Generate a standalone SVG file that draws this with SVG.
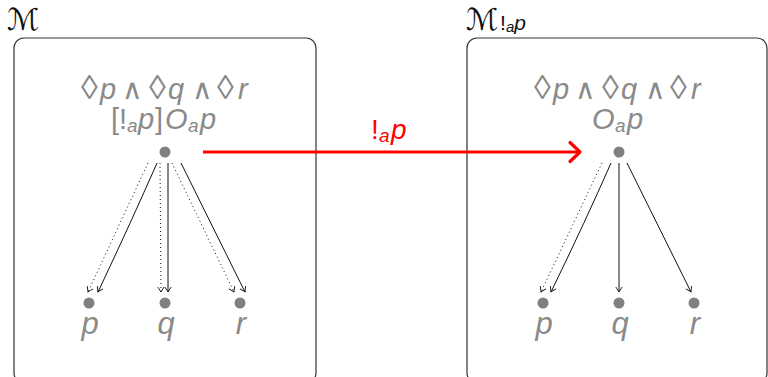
<svg xmlns="http://www.w3.org/2000/svg" width="768" height="377" viewBox="0 0 768 377">
<style>
.box{fill:none;stroke:#333;stroke-width:1.2}
.f{font-family:"Liberation Sans","DejaVu Sans",sans-serif;fill:#8a8a8a;font-size:29px}
.i{font-style:italic}
.dm{font-size:34px}
.an{font-family:"DejaVu Sans",sans-serif;font-weight:200;font-size:28px}
.sub{font-size:19px;font-style:italic}
.dot{fill:#808080}
.e{fill:none;stroke:#111;stroke-width:1}
.d{fill:none;stroke:#111;stroke-width:1;stroke-dasharray:1 3}
.lbl{font-family:"Liberation Sans","DejaVu Sans",sans-serif;font-size:31px;font-style:italic;fill:#8a8a8a;text-anchor:middle}
.title{font-family:"DejaVu Serif","DejaVu Sans",serif;font-size:30px;fill:#111}
</style>
<defs>
<marker id="ah" viewBox="-6 -4 7 8" markerWidth="7" markerHeight="8" refX="0" refY="0" orient="auto" markerUnits="userSpaceOnUse">
<path d="M-5,-3.2 Q-1.5,-0.8 0,0 Q-1.5,0.8 -5,3.2" fill="none" stroke="#111" stroke-width="0.9"/>
</marker>
</defs>

<g id="modelM">
<rect class="box" x="14" y="38" width="302" height="345" rx="10"/>
<text class="title" x="7" y="30">ℳ</text>
</g>
<g id="modelMap">
<rect class="box" x="467" y="38" width="300" height="345" rx="10"/>
<text class="title" x="466" y="30">ℳ<tspan font-family="Liberation Sans, sans-serif" font-size="21" dx="2">!</tspan><tspan font-family="Liberation Sans, sans-serif" font-size="15" font-style="italic" dy="2">a</tspan><tspan font-family="Liberation Sans, sans-serif" font-size="21" font-style="italic" dy="-2">p</tspan></text>
</g>

<g id="w1">
<text class="f" y="99"><tspan class="dm" x="81">◊</tspan><tspan class="i" x="100">p</tspan><tspan class="an" x="122">∧</tspan><tspan class="dm" x="149">◊</tspan><tspan class="i" x="168">q</tspan><tspan class="an" x="192">∧</tspan><tspan class="dm" x="217">◊</tspan><tspan class="i" x="238">r</tspan></text>
<text class="f" y="129"><tspan x="111">[!</tspan><tspan class="sub" x="127" dy="3">a</tspan><tspan class="i" x="138" dy="-3">p</tspan><tspan x="155">]</tspan><tspan class="i" x="165">O</tspan><tspan class="sub" x="188" dy="3">a</tspan><tspan class="i" x="200" dy="-3">p</tspan></text>
<circle class="dot" cx="165" cy="152" r="5.5"/>
</g>
<g id="w1p"><circle class="dot" cx="89" cy="303" r="5.5"/><text class="lbl" x="90" y="334">p</text></g>
<g id="w1q"><circle class="dot" cx="165" cy="303" r="5.5"/><text class="lbl" x="166" y="334">q</text></g>
<g id="w1r"><circle class="dot" cx="240" cy="303" r="5.5"/><text class="lbl" x="241" y="334">r</text></g>

<g id="w2">
<text class="f" y="99"><tspan class="dm" x="534">◊</tspan><tspan class="i" x="553">p</tspan><tspan class="an" x="575">∧</tspan><tspan class="dm" x="602">◊</tspan><tspan class="i" x="621">q</tspan><tspan class="an" x="645">∧</tspan><tspan class="dm" x="670">◊</tspan><tspan class="i" x="691">r</tspan></text>
<text class="f" y="129"><tspan class="i" x="592">O</tspan><tspan class="sub" x="615" dy="3">a</tspan><tspan class="i" x="627" dy="-3">p</tspan></text>
<circle class="dot" cx="619" cy="152" r="5.5"/>
</g>
<g id="w2p"><circle class="dot" cx="543" cy="303" r="5.5"/><text class="lbl" x="544" y="334">p</text></g>
<g id="w2q"><circle class="dot" cx="619" cy="303" r="5.5"/><text class="lbl" x="620" y="334">q</text></g>
<g id="w2r"><circle class="dot" cx="694" cy="303" r="5.5"/><text class="lbl" x="695" y="334">r</text></g>

<g id="connectors">
<path class="d" d="M148,163 L88,292" marker-end="url(#ah)"/>
<path class="e" d="M157,163 Q132,220 98,292" marker-end="url(#ah)"/>
<path class="d" d="M160,163 L161,292" marker-end="url(#ah)"/>
<path class="e" d="M168,163 L168,292" marker-end="url(#ah)"/>
<path class="d" d="M172,163 L234,292" marker-end="url(#ah)"/>
<path class="e" d="M181,163 L245,292" marker-end="url(#ah)"/>

<path class="d" d="M602,163 L541,292" marker-end="url(#ah)"/>
<path class="e" d="M611,163 Q586,220 551,292" marker-end="url(#ah)"/>
<path class="e" d="M619,163 L619,292" marker-end="url(#ah)"/>
<path class="e" d="M627,163 L691,292" marker-end="url(#ah)"/>

<g id="update">
<line x1="203" y1="152" x2="579" y2="152" stroke="#ff0000" stroke-width="3.2"/>
<path d="M570,142.5 L580,152 L570,161.5" fill="none" stroke="#ff0000" stroke-width="3.2" stroke-linecap="round" stroke-linejoin="round"/>
<text font-family="Liberation Sans, sans-serif" font-size="28" fill="#ff0000" y="139"><tspan x="371">!</tspan><tspan font-size="19" font-style="italic" x="379" dy="3">a</tspan><tspan font-style="italic" x="391" dy="-3">p</tspan></text>
</g>
</g>
</svg>
